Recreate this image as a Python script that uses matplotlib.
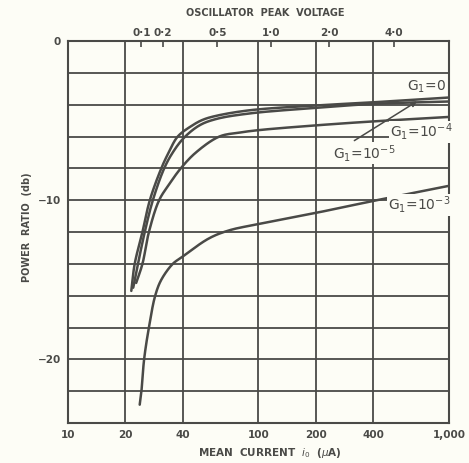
import matplotlib
matplotlib.use("Agg")
import matplotlib.pyplot as plt
import numpy as np

plt.rcParams['font.family'] = ['DejaVu Sans']
plt.rcParams['mathtext.fontset'] = 'dejavusans'

ink = '#4a4a47'
paper = '#fdfdf6'

# mean current (uA) and power ratio (db)
i_g0 = [21.5, 22.4, 24.6, 26.9, 30.9, 33.8, 37.7, 45, 51, 60, 90, 200, 400, 1000]
db_g0 = [-15.7, -14.0, -12.0, -10.0, -8.0, -7.0, -6.0, -5.3, -4.95, -4.7, -4.35, -4.05, -3.85, -3.55]

i_g5 = [22.0, 23.3, 25.3, 27.9, 32.0, 35.5, 40.5, 49, 60, 90, 200, 400, 1000]
db_g5 = [-15.5, -14.0, -12.0, -10.0, -8.0, -7.0, -6.1, -5.3, -4.9, -4.55, -4.2, -3.95, -3.8]

i_g4 = [22.8, 24.6, 26.6, 30.1, 34, 39.1, 47, 62.4, 80, 100, 200, 400, 1000]
db_g4 = [-15.2, -14.0, -12.0, -10.0, -9.0, -8.0, -7.0, -6.0, -5.75, -5.6, -5.3, -5.05, -4.77]

i_g3 = [23.8, 24.3, 25.1, 26.6, 28.7, 30.9, 35.5, 39.4, 55, 70, 100, 200, 400, 1000]
db_g3 = [-22.85, -22.0, -20.0, -18.0, -16.0, -15.0, -14.0, -13.6, -12.4, -11.9, -11.5, -10.8, -10.05, -9.1]

x_ticks = [10, 20, 40, 100, 200, 400, 1000]
x_labels = ['10', '20', '40', '100', '200', '400', '1,000']
y_ticks = [0, -10, -20]
y_grid = [0, -2, -4, -6, -8, -10, -12, -14, -16, -18, -20, -22]

# oscillator peak voltage marked against mean current on the top edge
volt_labels = ['0·1', '0·2', '0·5', '1·0', '2·0', '4·0']
volt_at_current = [24.3, 31.4, 60.8, 116, 235, 515]


def smooth(xs, ys, n=16):
    # centripetal Catmull-Rom through the read points, in (log x, y) screen-ish units
    p = np.column_stack([np.log10(xs) * 191.0, np.array(ys) * 16.0])
    p = np.vstack([2 * p[0] - p[1], p, 2 * p[-1] - p[-2]])
    out = []
    for k in range(1, len(p) - 2):
        p0, p1, p2, p3 = p[k - 1], p[k], p[k + 1], p[k + 2]
        t0 = 0.0
        t1 = t0 + np.linalg.norm(p1 - p0) ** 0.5
        t2 = t1 + np.linalg.norm(p2 - p1) ** 0.5
        t3 = t2 + np.linalg.norm(p3 - p2) ** 0.5
        t = np.linspace(t1, t2, n)[:, None]
        a1 = (t1 - t) / (t1 - t0) * p0 + (t - t0) / (t1 - t0) * p1
        a2 = (t2 - t) / (t2 - t1) * p1 + (t - t1) / (t2 - t1) * p2
        a3 = (t3 - t) / (t3 - t2) * p2 + (t - t2) / (t3 - t2) * p3
        b1 = (t2 - t) / (t2 - t0) * a1 + (t - t0) / (t2 - t0) * a2
        b2 = (t3 - t) / (t3 - t1) * a2 + (t - t1) / (t3 - t1) * a3
        c = (t2 - t) / (t2 - t1) * b1 + (t - t1) / (t2 - t1) * b2
        out.append(c)
    out = np.vstack(out)
    return 10 ** (out[:, 0] / 191.0), out[:, 1] / 16.0


fig = plt.figure(figsize=(4.69, 4.63), dpi=100)
fig.set_facecolor(paper)
ax = fig.add_axes([0.145, 0.0864, 0.812, 0.825])
ax.set_facecolor(paper)

ax.set_xscale('log')
ax.set_xlim(10, 1000)
ax.set_ylim(-24, 0)

# grid
for xv in x_ticks[1:-1]:
    ax.axvline(xv, color=ink, lw=1.3, zorder=1)
for yv in y_grid[1:]:
    ax.axhline(yv, color=ink, lw=1.3, zorder=1)

for xs, ys in [(i_g0, db_g0), (i_g5, db_g5), (i_g4, db_g4), (i_g3, db_g3)]:
    sx, sy = smooth(xs, ys)
    ax.plot(sx, sy, color=ink, lw=1.8, zorder=3, solid_capstyle='round')

for sp in ax.spines.values():
    sp.set_color(ink)
    sp.set_linewidth(1.5)

ax.set_xticks(x_ticks)
ax.set_xticklabels(x_labels)
ax.xaxis.set_minor_locator(matplotlib.ticker.NullLocator())
ax.set_yticks(y_ticks)
ax.set_yticklabels(['0', '\u221210', '\u221220'])
ax.tick_params(axis='both', length=0, colors=ink, labelsize=7.5, pad=5)
for t in ax.get_xticklabels() + ax.get_yticklabels():
    t.set_fontweight('bold')

top = ax.secondary_xaxis('top')
top.set_xticks(volt_at_current)
top.set_xticklabels(volt_labels)
top.xaxis.set_minor_locator(matplotlib.ticker.NullLocator())
top.tick_params(axis='x', direction='in', length=4, width=1.2, colors=ink, labelsize=7.5, pad=2)
for t in top.get_xticklabels():
    t.set_fontweight('bold')
top.spines['top'].set_visible(False)

fig.text(0.565, 0.972, 'OSCILLATOR  PEAK  VOLTAGE', ha='center', va='center',
         fontsize=7, fontweight='bold', color=ink)
fig.text(0.058, 0.51, 'POWER  RATIO  (db)', ha='center', va='center', rotation=90,
         fontsize=7, fontweight='bold', color=ink)
fig.text(0.575, 0.022, r'MEAN  CURRENT  $i_0$  ($\mu$A)', ha='center', va='center',
         fontsize=7.5, fontweight='bold', color=ink)

lab = dict(color=ink, fontsize=10, ha='center', va='center', zorder=4,
           bbox=dict(facecolor=paper, edgecolor='none', pad=0.5))
ax.text(760, -2.9, r'G$_1$=0', **lab)
ax.text(715, -5.7, r'G$_1$=10$^{-4}$', **lab)
ax.text(360, -7.05, r'G$_1$=10$^{-5}$', **lab)
ax.text(700, -10.3, r'G$_1$=10$^{-3}$', **lab)
ax.annotate('', xy=(700, -3.7), xytext=(310, -6.35),
            arrowprops=dict(arrowstyle='-|>', color=ink, lw=1.1, mutation_scale=8), zorder=4)

fig.savefig('out.png', dpi=100, facecolor=paper)
